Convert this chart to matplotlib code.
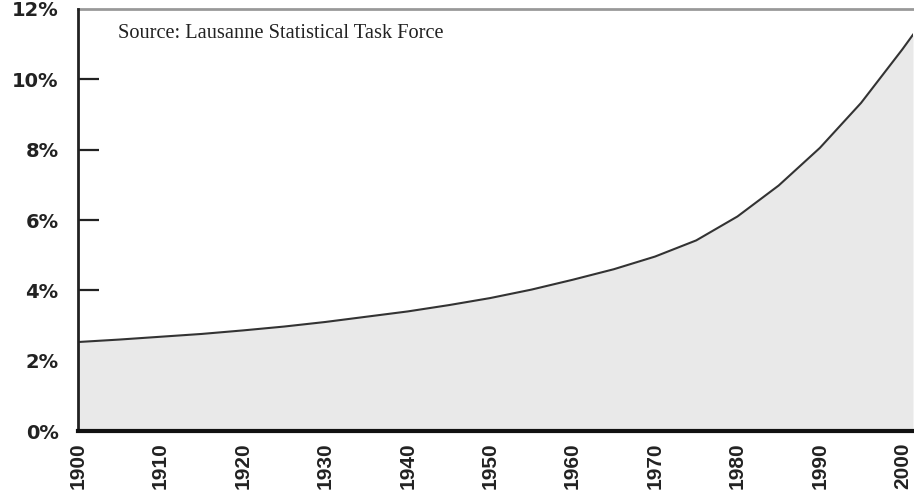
import matplotlib
matplotlib.use("Agg")
import matplotlib.pyplot as plt
from matplotlib.font_manager import FontProperties
from matplotlib.ticker import FuncFormatter

years = [1900, 1905, 1910, 1915, 1920, 1925, 1930, 1935, 1940, 1945, 1950,
         1955, 1960, 1965, 1970, 1975, 1980, 1985, 1990, 1995, 2000, 2001.3]
share = [2.53, 2.60, 2.68, 2.76, 2.86, 2.97, 3.10, 3.25, 3.40, 3.58, 3.78,
         4.02, 4.30, 4.60, 4.96, 5.42, 6.10, 6.98, 8.05, 9.33, 10.85, 11.27]
xticks = list(range(1900, 2001, 10))
yticks = [0, 2, 4, 6, 8, 10, 12]
source_text = "Source: Lausanne Statistical Task Force"

fig = plt.figure(figsize=(9.14, 4.98), dpi=100)
ax = fig.add_axes([78/914, (498-431)/498, (913-78)/914, (431-9)/498])
ax.set_axisbelow(True)

ax.fill_between(years, share, 0, color="#e9e9e9", zorder=1, linewidth=0)
ax.plot(years, share, color="#333333", linewidth=1.5, zorder=2,
        solid_joinstyle="round")

ax.set_xlim(1900, 2001.3)
ax.set_ylim(0, 12)
ax.set_xticks(xticks)
ax.set_yticks(yticks)
ax.yaxis.set_major_formatter(FuncFormatter(lambda v, p: f"{int(v)}%"))

for t in ax.get_yticklabels():
    t.set_fontproperties(FontProperties(family="DejaVu Sans", weight="bold", size=14))
    t.set_color("#222222")
for t in ax.get_xticklabels():
    t.set_fontproperties(FontProperties(family="Liberation Sans", weight="bold", size=15))
    t.set_rotation(90)
    t.set_color("#222222")

ax.tick_params(axis="y", direction="in", length=15, width=1.6, color="#222222", pad=14)
ax.tick_params(axis="x", length=0, pad=8)
ylines = ax.yaxis.get_ticklines()
# hide tick marks at 0% and 12% (ends of the axis)
for i, tl in enumerate(ylines):
    idx = i // 2
    if yticks[idx] in (0, 12):
        tl.set_visible(False)

ax.spines["right"].set_visible(False)
ax.spines["left"].set_linewidth(2)
ax.spines["left"].set_color("#222222")
ax.spines["left"].set_zorder(3)
ax.spines["bottom"].set_linewidth(3)
ax.spines["bottom"].set_color("#111111")
ax.spines["bottom"].set_zorder(3)
ax.spines["top"].set_linewidth(2)
ax.spines["top"].set_color("#999999")
ax.set_facecolor("white")

fig.text(118/914, 1 - 33/498, source_text, fontsize=14.7, family="Liberation Serif",
         va="center", ha="left", color="#222222")

fig.savefig("out.png", dpi=100)
